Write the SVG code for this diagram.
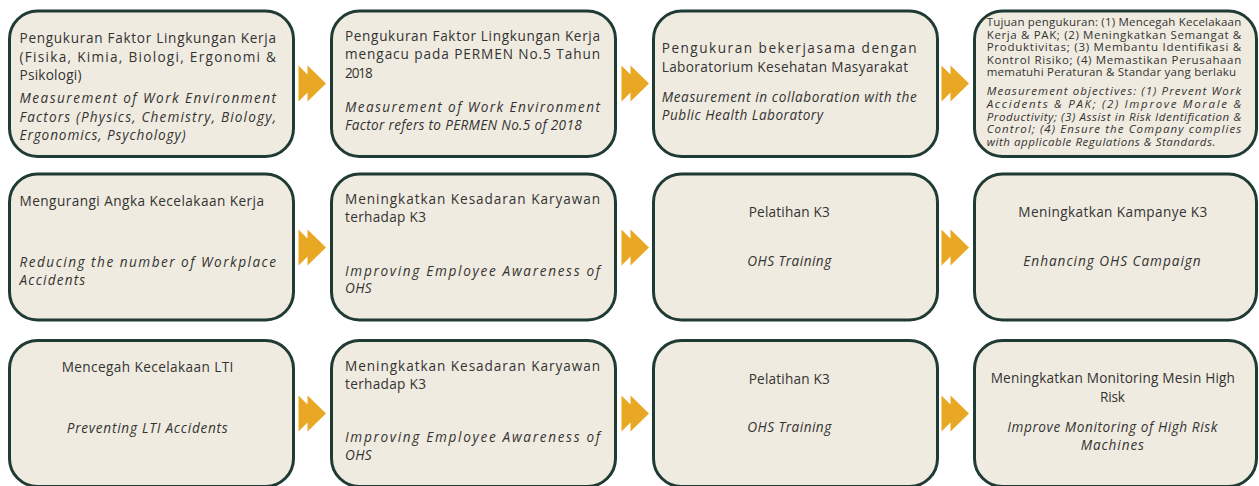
<svg xmlns="http://www.w3.org/2000/svg" width="1259" height="486" viewBox="0 0 1259 486">
<style>
.box{fill:#f0ebe0;stroke:#1f3b34;stroke-width:3}
.t{font-family:"Open Sans","Liberation Sans",sans-serif;font-size:13.6px;fill:#333333}
.i{font-style:italic}
.s{font-size:11.5px}
.c{text-anchor:middle}
.ar{fill:#e9a823}
</style>
<defs>
<path id="ff" d="M0,-18 L9,-9 L9,-18 L27.5,0 L9,18 L9,9 L0,18 Z"/>
</defs>
<g id="connectors">
<use href="#ff" class="ar" x="298.5" y="83.5"/>
<use href="#ff" class="ar" x="621.5" y="83.5"/>
<use href="#ff" class="ar" x="941.5" y="83.5"/>
<use href="#ff" class="ar" x="298.5" y="247.5"/>
<use href="#ff" class="ar" x="621.5" y="247.5"/>
<use href="#ff" class="ar" x="941.5" y="247.5"/>
<use href="#ff" class="ar" x="298.5" y="413.5"/>
<use href="#ff" class="ar" x="621.5" y="413.5"/>
<use href="#ff" class="ar" x="941.5" y="413.5"/>
</g>
<g id="n1">
<rect class="box" x="9.5" y="11" width="284" height="145.5" rx="28"/>
<text class="t" x="19.5" y="43" textLength="256.5">Pengukuran Faktor Lingkungan Kerja</text>
<text class="t" x="19.5" y="61.5" textLength="256.5">(Fisika, Kimia, Biologi, Ergonomi &amp;</text>
<text class="t" x="19.5" y="80" textLength="62">Psikologi)</text>
<text class="t i" x="19.5" y="103" textLength="256.5">Measurement of Work Environment</text>
<text class="t i" x="19.5" y="121.5" textLength="256.5">Factors (Physics, Chemistry, Biology,</text>
<text class="t i" x="19.5" y="139.5" textLength="166">Ergonomics, Psychology)</text>
</g>
<g id="n2">
<rect class="box" x="331.5" y="11" width="284" height="145.5" rx="28"/>
<text class="t" x="345" y="41" textLength="255">Pengukuran Faktor Lingkungan Kerja</text>
<text class="t" x="345" y="59" textLength="255">mengacu pada PERMEN No.5 Tahun</text>
<text class="t" x="345" y="77.5" textLength="27.7">2018</text>
<text class="t i" x="345" y="111.5" textLength="255">Measurement of Work Environment</text>
<text class="t i" x="345" y="130" textLength="236.7">Factor refers to PERMEN No.5 of 2018</text>
</g>
<g id="n3">
<rect class="box" x="653.5" y="11" width="284" height="145.5" rx="28"/>
<text class="t" x="661.7" y="53.3" textLength="255">Pengukuran bekerjasama dengan</text>
<text class="t" x="661.7" y="71.7" textLength="246.3">Laboratorium Kesehatan Masyarakat</text>
<text class="t i" x="661.7" y="101.7" textLength="255">Measurement in collaboration with the</text>
<text class="t i" x="661.7" y="120" textLength="161.3">Public Health Laboratory</text>
</g>
<g id="n4">
<rect class="box" x="974.5" y="11" width="282" height="145.5" rx="28"/>
<text class="t s" x="986.7" y="26" textLength="254.5">Tujuan pengukuran: (1) Mencegah Kecelakaan</text>
<text class="t s" x="986.7" y="38.7" textLength="254.5">Kerja &amp; PAK; (2) Meningkatkan Semangat &amp;</text>
<text class="t s" x="986.7" y="51.2" textLength="254.5">Produktivitas; (3) Membantu Identifikasi &amp;</text>
<text class="t s" x="986.7" y="63.8" textLength="254.5">Kontrol Risiko; (4) Memastikan Perusahaan</text>
<text class="t s" x="986.7" y="76.3" textLength="249.4">mematuhi Peraturan &amp; Standar yang berlaku</text>
<text class="t s i" x="986.7" y="95.3" textLength="254.5">Measurement objectives: (1) Prevent Work</text>
<text class="t s i" x="986.7" y="108" textLength="254.5">Accidents &amp; PAK; (2) Improve Morale &amp;</text>
<text class="t s i" x="986.7" y="120.7" textLength="254.5">Productivity; (3) Assist in Risk Identification &amp;</text>
<text class="t s i" x="986.7" y="133.3" textLength="254.5">Control; (4) Ensure the Company complies</text>
<text class="t s i" x="986.7" y="146" textLength="228.7">with applicable Regulations &amp; Standards.</text>
</g>
<g id="n5">
<rect class="box" x="9.5" y="174" width="284" height="146" rx="28"/>
<text class="t" x="19.5" y="205.7" textLength="244.5">Mengurangi Angka Kecelakaan Kerja</text>
<text class="t i" x="19.5" y="266.7" textLength="256.5">Reducing the number of Workplace</text>
<text class="t i" x="19.5" y="285" textLength="65.7">Accidents</text>
</g>
<g id="n6">
<rect class="box" x="331.5" y="174" width="284" height="146" rx="28"/>
<text class="t" x="345" y="204" textLength="255">Meningkatkan Kesadaran Karyawan</text>
<text class="t" x="345" y="222.3" textLength="81">terhadap K3</text>
<text class="t i" x="345" y="275.7" textLength="255">Improving Employee Awareness of</text>
<text class="t i" x="345" y="293.3" textLength="26.7">OHS</text>
</g>
<g id="n7">
<rect class="box" x="653.5" y="174" width="284" height="146" rx="28"/>
<text class="t c" x="789.2" y="217" textLength="81">Pelatihan K3</text>
<text class="t i c" x="789.2" y="265.7" textLength="84">OHS Training</text>
</g>
<g id="n8">
<rect class="box" x="974.5" y="174" width="282" height="146" rx="28"/>
<text class="t c" x="1112.8" y="217.3" textLength="189">Meningkatkan Kampanye K3</text>
<text class="t i c" x="1112" y="265.7" textLength="177.3">Enhancing OHS Campaign</text>
</g>
<g id="n9">
<rect class="box" x="9.5" y="340.5" width="284" height="146" rx="28"/>
<text class="t c" x="147.5" y="371.7" textLength="171.7">Mencegah Kecelakaan LTI</text>
<text class="t i c" x="147.2" y="433.3" textLength="161">Preventing LTI Accidents</text>
</g>
<g id="n10">
<rect class="box" x="331.5" y="340.5" width="284" height="146" rx="28"/>
<text class="t" x="345" y="370.5" textLength="255">Meningkatkan Kesadaran Karyawan</text>
<text class="t" x="345" y="388.8" textLength="81">terhadap K3</text>
<text class="t i" x="345" y="442.2" textLength="255">Improving Employee Awareness of</text>
<text class="t i" x="345" y="459.8" textLength="26.7">OHS</text>
</g>
<g id="n11">
<rect class="box" x="653.5" y="340.5" width="284" height="146" rx="28"/>
<text class="t c" x="789.2" y="384" textLength="81">Pelatihan K3</text>
<text class="t i c" x="789.2" y="432" textLength="84">OHS Training</text>
</g>
<g id="n12">
<rect class="box" x="974.5" y="340.5" width="282" height="146" rx="28"/>
<text class="t c" x="1112.8" y="383.3" textLength="244.3">Meningkatkan Monitoring Mesin High</text>
<text class="t c" x="1112.5" y="401.7" textLength="25">Risk</text>
<text class="t i c" x="1112.3" y="431.7" textLength="210">Improve Monitoring of High Risk</text>
<text class="t i c" x="1112.3" y="450" textLength="63.3">Machines</text>
</g>
</svg>
